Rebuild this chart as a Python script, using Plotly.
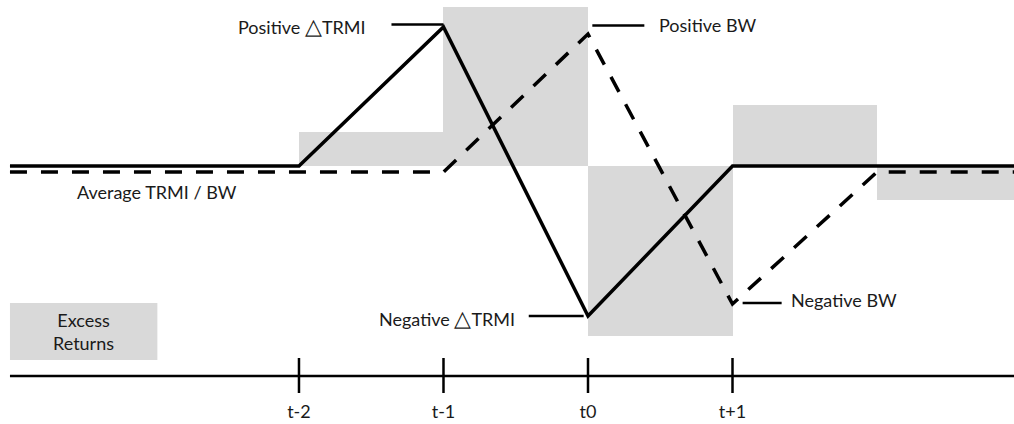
import plotly.graph_objects as go

# ---- data ----
period_centers = [-1.5, -0.5, 0.5, 1.5, 2.5]
excess_returns = [3.4, 15.9, -17.0, 6.1, -3.4]

trmi_x = [-4, -2, -1, 0, 1, 3]
trmi_y = [0.0, 0.0, 13.9, -15.0, 0.0, 0.0]

bw_x = [-4, -1, 0, 1, 2, 3]
bw_y = [-0.6, -0.6, 13.2, -13.8, -0.6, -0.6]

tick_pos = [-2, -1, 0, 1]
tick_labels = ["t-2", "t-1", "t0", "t+1"]

FONT = "Lato"
FS = 18
TXT = "#1a1a1a"
TRI = '<span style="font-size:22px">\u25b3</span>'

fig = go.Figure()

fig.add_trace(go.Bar(x=period_centers, y=excess_returns, width=1,
                     marker=dict(color="#d9d9d9", line=dict(width=0)),
                     hoverinfo="skip"))

fig.add_trace(go.Scatter(x=bw_x, y=bw_y, mode="lines",
                         line=dict(color="black", width=3.5, dash="17px,14px"),
                         hoverinfo="skip"))
fig.add_trace(go.Scatter(x=trmi_x, y=trmi_y, mode="lines",
                         line=dict(color="black", width=3.5),
                         hoverinfo="skip"))

# timeline
axis_y = -21.0
fig.add_trace(go.Scatter(x=[-4, 3], y=[axis_y, axis_y], mode="lines",
                         line=dict(color="black", width=2.5), hoverinfo="skip"))
tx, ty = [], []
for p in tick_pos:
    tx += [p, p, None]
    ty += [axis_y + 1.8, axis_y - 1.7, None]
fig.add_trace(go.Scatter(x=tx, y=ty, mode="lines",
                         line=dict(color="black", width=2.5), hoverinfo="skip"))
fig.add_trace(go.Scatter(x=tick_pos, y=[axis_y - 3.7] * 4, mode="text",
                         text=tick_labels, textposition="middle center",
                         textfont=dict(family=FONT, size=FS, color=TXT),
                         hoverinfo="skip"))

# leader lines for labels
leaders = [
    (-1.36, -1.0, 14.15),   # positive TRMI
    (0.03, 0.39, 14.05),    # positive BW
    (-0.41, -0.03, -15.0),  # negative TRMI
    (1.07, 1.34, -13.7),    # negative BW
]
for x0, x1, yy in leaders:
    fig.add_shape(type="line", x0=x0, x1=x1, y0=yy, y1=yy,
                  line=dict(color="black", width=2.5))

def label(text, x, y, anchor):
    fig.add_annotation(x=x, y=y, text=text, showarrow=False, xanchor=anchor,
                       yanchor="middle",
                       font=dict(family=FONT, size=FS, color=TXT))

label("Positive " + TRI + "TRMI", -1.52, 14.1, "right")
label("Positive BW", 0.48, 14.1, "left")
label("Average TRMI / BW", -3.55, -2.6, "left")
label("Negative " + TRI + "TRMI", -0.49, -15.1, "right")
label("Negative BW", 1.39, -13.4, "left")

# legend box
fig.add_shape(type="rect", x0=-4.0, x1=-2.98, y0=-19.4, y1=-13.7,
              fillcolor="#d9d9d9", line=dict(width=0), layer="below")
fig.add_annotation(x=-3.49, y=-16.55, text="Excess<br>Returns", showarrow=False,
                   xanchor="center", yanchor="middle",
                   font=dict(family=FONT, size=FS, color=TXT))

fig.update_layout(
    width=1014, height=424,
    margin=dict(l=0, r=0, t=0, b=0),
    paper_bgcolor="white", plot_bgcolor="white",
    showlegend=False, bargap=0,
    xaxis=dict(visible=False, range=[-4.069, 2.948], fixedrange=True),
    yaxis=dict(visible=False, range=[-25.8, 16.6], fixedrange=True),
)

fig.write_html("out.html", config={"displayModeBar": False})

# remove default page margin so the figure sits at the window's top-left
with open("out.html", "r", encoding="utf-8") as f:
    html = f.read()
html = html.replace("<body>", '<body style="margin:0;padding:0;overflow:hidden">', 1)
with open("out.html", "w", encoding="utf-8") as f:
    f.write(html)
